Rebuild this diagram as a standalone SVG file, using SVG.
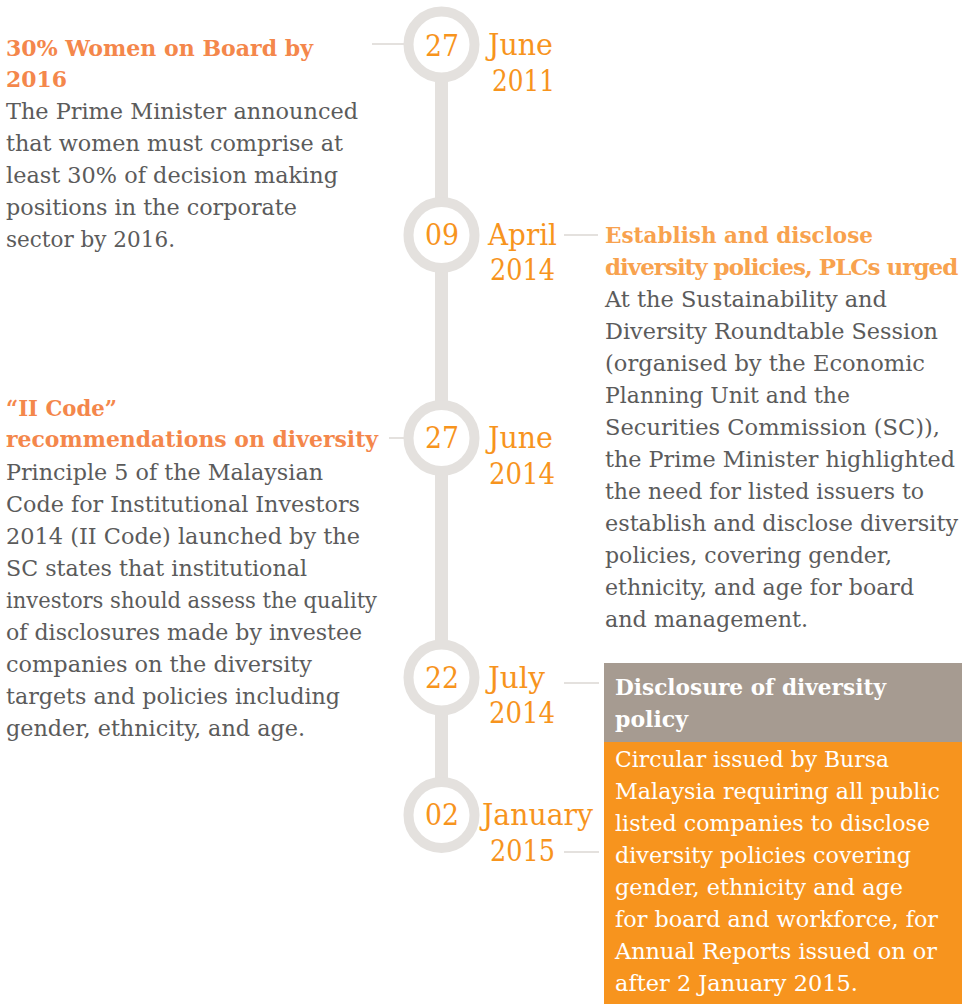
<svg xmlns="http://www.w3.org/2000/svg" width="971" height="1005" viewBox="0 0 971 1005">
  <style>
    text { font-family: "DejaVu Serif", "Liberation Serif", serif; }
    .body { font-size: 23px; fill: #5b5b5b; }
    .head { font-size: 23px; font-weight: bold; fill: #f4874b; }
    .head2 { font-size: 23px; font-weight: bold; fill: #f8a24e; }
    .tight { letter-spacing: -1px; }
    .boxhead { font-size: 23px; font-weight: bold; fill: #ffffff; }
    .boxbody { font-size: 23px; fill: #ffffff; }
    .day { font-size: 29px; fill: #f7941d; }
    .date { font-size: 29px; fill: #f7941d; }
    .ring { fill: #ffffff; stroke: #e4e1de; stroke-width: 10; }
    .spine { fill: #e4e1de; }
    .link { stroke: #e4e1de; stroke-width: 2; fill: none; }
  </style>

  <!-- timeline spine -->
  <rect class="spine" x="435" y="44" width="13" height="771"/>

  <!-- connectors -->
  <g id="connectors">
    <line class="link" x1="372" y1="44" x2="404" y2="44"/>
    <line class="link" x1="564" y1="235" x2="598" y2="235"/>
    <line class="link" x1="389" y1="438" x2="404" y2="438"/>
    <line class="link" x1="564" y1="683" x2="599" y2="683"/>
    <line class="link" x1="564" y1="852" x2="599" y2="852"/>
  </g>

  <!-- milestones -->
  <g id="m-2011-06">
    <circle class="ring" cx="441.5" cy="44.5" r="33"/>
    <text class="day" x="425" y="56" textLength="34" lengthAdjust="spacingAndGlyphs">27</text>
    <text class="date" x="488" y="55" textLength="65" lengthAdjust="spacingAndGlyphs">June</text>
    <text class="date" x="492" y="91" textLength="63" lengthAdjust="spacingAndGlyphs">2011</text>
  </g>

  <g id="m-2014-04">
    <circle class="ring" cx="441.5" cy="235" r="33"/>
    <text class="day" x="425" y="245" textLength="34" lengthAdjust="spacingAndGlyphs">09</text>
    <text class="date" x="488" y="245" textLength="69" lengthAdjust="spacingAndGlyphs">April</text>
    <text class="date" x="490" y="280" textLength="65" lengthAdjust="spacingAndGlyphs">2014</text>
  </g>

  <g id="m-2014-06">
    <circle class="ring" cx="441.5" cy="438" r="33"/>
    <text class="day" x="425" y="448" textLength="34" lengthAdjust="spacingAndGlyphs">27</text>
    <text class="date" x="488" y="448" textLength="65" lengthAdjust="spacingAndGlyphs">June</text>
    <text class="date" x="489" y="484" textLength="66" lengthAdjust="spacingAndGlyphs">2014</text>
  </g>

  <g id="m-2014-07">
    <circle class="ring" cx="441.5" cy="677.5" r="33"/>
    <text class="day" x="425" y="688" textLength="34" lengthAdjust="spacingAndGlyphs">22</text>
    <text class="date" x="488" y="688" textLength="57" lengthAdjust="spacingAndGlyphs">July</text>
    <text class="date" x="489" y="723" textLength="66" lengthAdjust="spacingAndGlyphs">2014</text>
  </g>

  <g id="m-2015-01">
    <circle class="ring" cx="441.5" cy="815" r="33"/>
    <text class="day" x="425" y="825" textLength="34" lengthAdjust="spacingAndGlyphs">02</text>
    <text class="date" x="482" y="825" textLength="111" lengthAdjust="spacingAndGlyphs">January</text>
    <text class="date" x="490" y="861" textLength="65" lengthAdjust="spacingAndGlyphs">2015</text>
  </g>

  <!-- event: women on board target -->
  <g id="e-women-on-board">
    <text class="head" x="6" y="56" textLength="307" lengthAdjust="spacingAndGlyphs">30% Women on Board by</text>
    <text class="head" x="6" y="87" textLength="61" lengthAdjust="spacingAndGlyphs">2016</text>
    <text class="body" x="6" y="119" textLength="352" lengthAdjust="spacingAndGlyphs">The Prime Minister announced</text>
    <text class="body" x="6" y="151" textLength="337" lengthAdjust="spacingAndGlyphs">that women must comprise at</text>
    <text class="body" x="6" y="183" textLength="332" lengthAdjust="spacingAndGlyphs">least 30% of decision making</text>
    <text class="body" x="6" y="215" textLength="291" lengthAdjust="spacingAndGlyphs">positions in the corporate</text>
    <text class="body" x="6" y="247" textLength="169" lengthAdjust="spacingAndGlyphs">sector by 2016.</text>
  </g>

  <!-- event: diversity policies roundtable -->
  <g id="e-roundtable">
    <text class="head2" x="605" y="243" textLength="268" lengthAdjust="spacingAndGlyphs">Establish and disclose</text>
    <text class="head2 tight" x="605" y="275">diversity policies, PLCs urged</text>
    <text class="body" x="605" y="307" textLength="282" lengthAdjust="spacingAndGlyphs">At the Sustainability and</text>
    <text class="body" x="605" y="339" textLength="333" lengthAdjust="spacingAndGlyphs">Diversity Roundtable Session</text>
    <text class="body" x="605" y="371" textLength="320" lengthAdjust="spacingAndGlyphs">(organised by the Economic</text>
    <text class="body" x="605" y="403" textLength="245" lengthAdjust="spacingAndGlyphs">Planning Unit and the</text>
    <text class="body" x="605" y="435" textLength="335" lengthAdjust="spacingAndGlyphs">Securities Commission (SC)),</text>
    <text class="body" x="605" y="467" textLength="350" lengthAdjust="spacingAndGlyphs">the Prime Minister highlighted</text>
    <text class="body" x="605" y="499" textLength="319" lengthAdjust="spacingAndGlyphs">the need for listed issuers to</text>
    <text class="body" x="605" y="531" textLength="353" lengthAdjust="spacingAndGlyphs">establish and disclose diversity</text>
    <text class="body" x="605" y="563" textLength="287" lengthAdjust="spacingAndGlyphs">policies, covering gender,</text>
    <text class="body" x="605" y="595" textLength="309" lengthAdjust="spacingAndGlyphs">ethnicity, and age for board</text>
    <text class="body" x="605" y="627" textLength="203" lengthAdjust="spacingAndGlyphs">and management.</text>
  </g>

  <!-- event: II Code -->
  <g id="e-ii-code">
    <text class="head" x="6" y="416" textLength="111" lengthAdjust="spacingAndGlyphs">“II Code”</text>
    <text class="head" x="6" y="447" textLength="372" lengthAdjust="spacingAndGlyphs">recommendations on diversity</text>
    <text class="body" x="6" y="480" textLength="317" lengthAdjust="spacingAndGlyphs">Principle 5 of the Malaysian</text>
    <text class="body" x="6" y="512" textLength="354" lengthAdjust="spacingAndGlyphs">Code for Institutional Investors</text>
    <text class="body" x="6" y="544" textLength="354" lengthAdjust="spacingAndGlyphs">2014 (II Code) launched by the</text>
    <text class="body" x="6" y="576" textLength="301" lengthAdjust="spacingAndGlyphs">SC states that institutional</text>
    <text class="body" x="6" y="608" textLength="371" lengthAdjust="spacingAndGlyphs">investors should assess the quality</text>
    <text class="body" x="6" y="640" textLength="356" lengthAdjust="spacingAndGlyphs">of disclosures made by investee</text>
    <text class="body" x="6" y="672" textLength="306" lengthAdjust="spacingAndGlyphs">companies on the diversity</text>
    <text class="body" x="6" y="704" textLength="334" lengthAdjust="spacingAndGlyphs">targets and policies including</text>
    <text class="body" x="6" y="736" textLength="299" lengthAdjust="spacingAndGlyphs">gender, ethnicity, and age.</text>
  </g>

  <!-- event: Bursa circular -->
  <g id="e-bursa-circular">
    <rect x="604" y="663" width="358" height="79" fill="#a69b91"/>
    <rect x="604" y="742" width="358" height="262" fill="#f7941e"/>
    <text class="boxhead" x="615" y="695" textLength="271" lengthAdjust="spacingAndGlyphs">Disclosure of diversity</text>
    <text class="boxhead" x="615" y="727" textLength="73" lengthAdjust="spacingAndGlyphs">policy</text>
    <text class="boxbody" x="615" y="767" textLength="274" lengthAdjust="spacingAndGlyphs">Circular issued by Bursa</text>
    <text class="boxbody" x="615" y="799" textLength="325" lengthAdjust="spacingAndGlyphs">Malaysia requiring all public</text>
    <text class="boxbody" x="615" y="831" textLength="315" lengthAdjust="spacingAndGlyphs">listed companies to disclose</text>
    <text class="boxbody" x="615" y="863" textLength="296" lengthAdjust="spacingAndGlyphs">diversity policies covering</text>
    <text class="boxbody" x="615" y="895" textLength="288" lengthAdjust="spacingAndGlyphs">gender, ethnicity and age</text>
    <text class="boxbody" x="615" y="927" textLength="323" lengthAdjust="spacingAndGlyphs">for board and workforce, for</text>
    <text class="boxbody" x="615" y="959" textLength="322" lengthAdjust="spacingAndGlyphs">Annual Reports issued on or</text>
    <text class="boxbody" x="615" y="991" textLength="243" lengthAdjust="spacingAndGlyphs">after 2 January 2015.</text>
  </g>
</svg>
